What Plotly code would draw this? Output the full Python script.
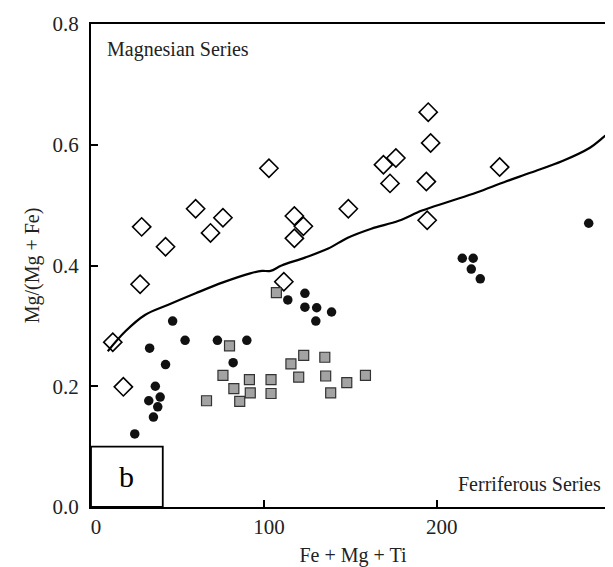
import plotly.graph_objects as go

# Open diamonds (Magnesian side)
dia_x = [12.6, 18.7, 28.4, 29.3, 43.1, 60.5, 69.1, 76.3, 102.9, 111.5, 117.6, 117.6,
         122.8, 148.8, 169.1, 172.9, 176.3, 195.0, 196.4, 193.9, 194.4, 236.3]
dia_y = [0.273, 0.199, 0.369, 0.464, 0.431, 0.494, 0.454, 0.479, 0.561, 0.373, 0.482, 0.445,
         0.465, 0.494, 0.567, 0.536, 0.578, 0.654, 0.603, 0.539, 0.475, 0.563]

# Black circles
cir_x = [25.3, 33.4, 33.9, 36.1, 37.2, 38.6, 40.0, 43.1, 47.2, 54.4, 73.1, 82.2, 90.1,
         113.8, 123.7, 123.7, 130.5, 130.0, 139.1, 214.7, 221.0, 219.9, 225.1, 287.8]
cir_y = [0.121, 0.176, 0.263, 0.149, 0.200, 0.166, 0.182, 0.236, 0.308, 0.276, 0.276, 0.239, 0.276,
         0.343, 0.354, 0.331, 0.330, 0.308, 0.323, 0.412, 0.412, 0.394, 0.378, 0.470]

# Gray squares
sq_x = [66.8, 76.3, 80.1, 82.6, 86.0, 91.6, 92.1, 104.1, 104.1, 107.2, 115.6, 120.1,
        123.0, 135.2, 135.7, 138.6, 147.9, 158.7]
sq_y = [0.176, 0.218, 0.267, 0.196, 0.175, 0.211, 0.189, 0.211, 0.188, 0.355, 0.237, 0.215,
        0.251, 0.248, 0.217, 0.189, 0.206, 0.218]

# Boundary line
line_x = [9.7, 19.9, 31.2, 44.7, 60.5, 76.3, 92.1, 98.9, 103.8, 110.2, 123.7, 137.2, 148.5,
          162.1, 177.9, 191.4, 207.2, 223.0, 238.8, 254.5, 272.6, 288.5, 295.3, 302.5]
line_y = [0.258, 0.291, 0.318, 0.335, 0.354, 0.372, 0.387, 0.391, 0.391, 0.400, 0.413, 0.428, 0.446,
          0.461, 0.474, 0.491, 0.506, 0.521, 0.538, 0.554, 0.573, 0.595, 0.610, 0.628]

x_ticks = [0, 100, 200]
y_ticks = [0.0, 0.2, 0.4, 0.6, 0.8]

FONT = "Times New Roman"

fig = go.Figure()
fig.add_trace(go.Scatter(x=line_x, y=line_y, mode="lines", line=dict(color="black", width=2.2),
                         line_shape="spline", showlegend=False, hoverinfo="skip"))
fig.add_trace(go.Scatter(x=dia_x, y=dia_y, mode="markers",
                         marker=dict(symbol="diamond-open", size=14, color="black", line=dict(width=1.6)),
                         showlegend=False))
fig.add_trace(go.Scatter(x=cir_x, y=cir_y, mode="markers",
                         marker=dict(symbol="circle", size=9.5, color="#111111"),
                         showlegend=False))
fig.add_trace(go.Scatter(x=sq_x, y=sq_y, mode="markers",
                         marker=dict(symbol="square", size=10, color="#a3a3a3",
                                     line=dict(color="#333333", width=1.2)),
                         showlegend=False))

fig.add_shape(type="rect", x0=0, x1=41.5, y0=0, y1=0.1, xref="x", yref="y",
              line=dict(color="black", width=1.8), fillcolor="white", layer="above")
fig.add_annotation(x=20.7, y=0.05, text="b", showarrow=False, xref="x", yref="y",
                   font=dict(family=FONT, size=30, color="black"))
fig.add_annotation(x=8.0, y=0.758, text="Magnesian Series", showarrow=False, xref="x", yref="y",
                   xanchor="left", yanchor="middle", font=dict(family=FONT, size=20, color="#222222"))
fig.add_annotation(x=296, y=0.038, text="Ferriferous Series", showarrow=False, xref="x", yref="y",
                   xanchor="right", yanchor="middle", font=dict(family=FONT, size=20, color="#222222"))

tick_font = dict(family=FONT, size=21, color="#222222")

fig.update_layout(
    width=613, height=567,
    margin=dict(l=83, r=4, t=15, b=68),
    plot_bgcolor="white", paper_bgcolor="white",
    font=dict(family=FONT, size=20, color="black"),
    xaxis=dict(range=[0, 303], tickvals=x_ticks, ticktext=[str(v) for v in x_ticks],
               tickfont=tick_font, ticklabelshift=5,
               ticks="inside", ticklen=7, tickcolor="black", tickwidth=1.5,
               showline=True, linecolor="black", linewidth=2, mirror=True,
               showgrid=False, zeroline=False,
               title=dict(text="Fe + Mg + Ti", font=dict(family=FONT, size=20, color="#222222"), standoff=10)),
    yaxis=dict(range=[0, 0.8], tickvals=y_ticks, ticktext=["%.1f" % v for v in y_ticks],
               tickfont=tick_font, ticklabelstandoff=6,
               ticks="inside", ticklen=7, tickcolor="black", tickwidth=1.5,
               showline=True, linecolor="black", linewidth=2, mirror=True,
               showgrid=False, zeroline=False,
               title=dict(text="Mg/(Mg + Fe)", font=dict(family=FONT, size=20, color="#222222"), standoff=8)),
)

fig.write_html("out.html")
